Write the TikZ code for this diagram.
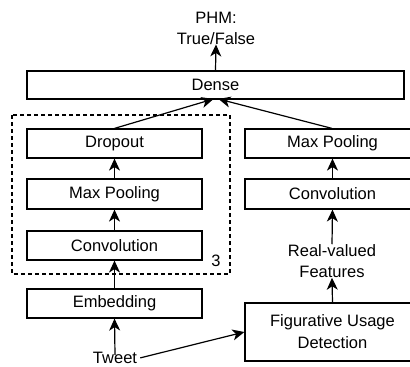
\documentclass[tikz,border=0pt]{standalone}
\usepackage{fontspec}
\setmainfont{Liberation Sans}
\usetikzlibrary{arrows.meta}
\begin{document}
\begin{tikzpicture}[x=1pt,y=-1pt,
  box/.style={draw,line width=1.2pt,minimum height=29pt,inner sep=0pt,font=\fontsize{16.5}{19}\selectfont},
  lbl/.style={align=center,inner sep=0pt,font=\fontsize{16.5}{21}\selectfont},
  arr/.style={line width=1.2pt,-{Stealth[length=12pt,width=11pt,inset=3.5pt]}}]
\useasboundingbox (0,0) rectangle (410,367);
\clip (0,0) rectangle (410,367);
\node[box,minimum width=377pt,minimum height=28pt] (dense) at (215.5,85) {Dense};
\node[box,minimum width=175pt] (drop) at (114.5,143.5) {Dropout};
\node[box,minimum width=175pt,minimum height=30pt] (mpl) at (114.5,194) {Max Pooling};
\node[box,minimum width=175pt] (convl) at (114.5,245.5) {Convolution};
\node[box,minimum width=175pt] (emb) at (114.5,303.5) {Embedding};
\node[box,minimum width=175pt] (mpr) at (332.5,143.5) {Max Pooling};
\node[box,minimum width=175pt,minimum height=30pt] (convr) at (332.5,194) {Convolution};
\node[box,minimum width=175pt,minimum height=58pt,align=center,font=\fontsize{16.5}{22}\selectfont] (fud) at (332.5,332) {Figurative Usage\\Detection};
\node[lbl] (phm) at (216,28) {PHM:\\True/False};
\node[lbl] (rvf) at (332,261) {Real-valued\\Features};
\node[lbl,anchor=base] (tweet) at (115,363.5) {Tweet};
\node[lbl] (three) at (216,261) {3};
\draw[line width=1.2pt,dash pattern=on 4pt off 3pt] (12,115) rectangle (230,274);
\coordinate (dl) at (213.5,99);
\coordinate (dr) at (218.5,99);
\draw[arr] (dense.north) -- (phm.south);
\draw[arr] (drop.north) -- (dl);
\draw[arr] ([xshift=-0.5pt]mpr.north) -- (dr);
\draw[arr] (mpl.north) -- (drop.south);
\draw[arr] (convl.north) -- (mpl.south);
\draw[arr] (emb.north) -- (convl.south);
\draw[arr] ([yshift=-3pt]tweet.north) -- (emb.south);
\draw[arr] (convr.north) -- (mpr.south);
\draw[arr] (rvf.north) -- (convr.south);
\draw[arr] (fud.north) -- (rvf.south);
\draw[arr] ([xshift=3pt]tweet.east) -- (fud.west);
\end{tikzpicture}
\end{document}
